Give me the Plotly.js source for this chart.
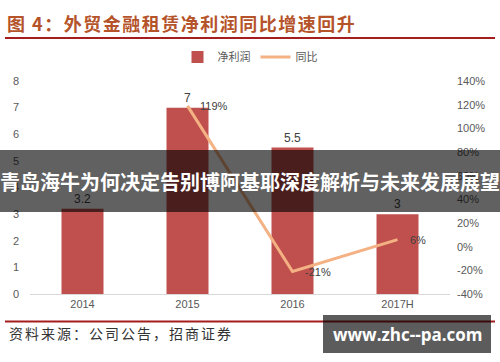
<!DOCTYPE html>
<html>
<head>
<meta charset="utf-8">
<script src="https://cdn.plot.ly/plotly-3.0.1.min.js"></script>
<style>
html,body{margin:0;padding:0;background:#fff;}
#chart{width:500px;height:362px;}
#chart .gtitle{letter-spacing:1.5px;}
#chart .annotation[data-index="3"] .annotation-text{letter-spacing:2px;}
</style>
</head>
<body>
<div id="chart"></div>
<script>
// ---- data ----
const categories = ['2014', '2015', '2016', '2017H'];
const netProfit = [3.2, 7, 5.5, 3];
const yoyGrowth = [null, 119, -21, 6];
const leftTicks = [0, 1, 2, 3, 4, 5, 6, 7, 8];
const rightTicks = [-40, -20, 0, 20, 40, 60, 80, 100, 120, 140];

const titleText = '图 4：外贸金融租赁净利润同比增速回升';
const sourceText = '资料来源：公司公告，招商证券';
const bannerText = '青岛海牛为何决定告别博阿基耶深度解析与未来发展展望';
const watermarkText = 'www.zhc--pa.com';

const CJK = '"Noto Sans CJK SC", "Liberation Sans", sans-serif';
const LAT = '"Liberation Sans", Arial, sans-serif';

// plot area geometry helpers (paper coords)
const W = 500, H = 362, ML = 30, MR = 50, MT = 81, MB = 68;
const PW = W - ML - MR, PH = H - MT - MB;
const px = x => (x - ML) / PW;
const py = y => (H - MB - y) / PH;

const idx = categories.map((c, i) => i);

const bars = {
  type: 'bar',
  name: '净利润',
  x: idx,
  y: netProfit,
  marker: {color: '#C0504D'},
  width: 0.4,
  text: netProfit.map(v => String(v)),
  textposition: 'outside',
  textfont: {family: LAT, size: 12, color: '#404040'},
  cliponaxis: false,
  hoverinfo: 'skip'
};

const line = {
  type: 'scatter',
  mode: 'lines',
  name: '同比',
  x: idx,
  y: yoyGrowth,
  yaxis: 'y2',
  line: {color: '#F4B183', width: 3},
  connectgaps: false,
  hoverinfo: 'skip'
};

const annotations = [];
idx.forEach(i => {
  if (yoyGrowth[i] === null) return;
  annotations.push({
    x: i, y: yoyGrowth[i], xref: 'x', yref: 'y2',
    text: yoyGrowth[i] + '%', showarrow: false,
    xanchor: 'left', yanchor: 'middle', xshift: 10,
    font: {family: LAT, size: 11, color: '#404040'}
  });
});

annotations.push({
  x: px(7), y: py(333), xref: 'paper', yref: 'paper',
  text: sourceText, showarrow: false, xanchor: 'left', yanchor: 'middle', align: 'left',
  font: {family: CJK, size: 14, color: '#333333'}
});
annotations.push({
  x: px(250), y: py(181), xref: 'paper', yref: 'paper',
  text: '<b>' + bannerText + '</b>', showarrow: false, xanchor: 'center', yanchor: 'middle',
  font: {family: CJK, size: 20, color: '#ffffff'}
});
annotations.push({
  x: px(407), y: py(334), xref: 'paper', yref: 'paper',
  text: '<b>' + watermarkText + '</b>', showarrow: false, xanchor: 'center', yanchor: 'middle',
  font: {family: '"Open Sans", ' + LAT, size: 17, color: '#ffffff'}
});

const shapes = [
  {type: 'line', xref: 'paper', yref: 'paper', x0: px(5), x1: px(495), y0: py(38), y1: py(38),
   line: {color: '#A51E1E', width: 2}, layer: 'above'},
  {type: 'line', xref: 'paper', yref: 'paper', x0: px(5), x1: px(495), y0: py(321.5), y1: py(321.5),
   line: {color: '#A51E1E', width: 2}, layer: 'above'},
  {type: 'rect', xref: 'paper', yref: 'paper', x0: px(-5), x1: px(505), y0: py(212), y1: py(150),
   fillcolor: 'rgba(0,0,0,0.62)', line: {width: 0}, layer: 'above'},
  {type: 'rect', xref: 'paper', yref: 'paper', x0: px(323), x1: px(491), y0: py(353), y1: py(315),
   fillcolor: 'rgba(0,0,0,0.64)', line: {width: 0}, layer: 'above'}
];

const layout = {
  width: W, height: H,
  margin: {l: ML, r: MR, t: MT, b: MB, pad: 0},
  paper_bgcolor: '#ffffff', plot_bgcolor: '#ffffff',
  showlegend: true,
  legend: {
    orientation: 'h', xref: 'container', yref: 'container',
    x: 0.5, xanchor: 'center', y: 1 - 57 / H, yanchor: 'middle',
    font: {family: CJK, size: 11, color: '#595959'},
    itemwidth: 30, tracegroupgap: 0
  },
  title: {
    text: '<b>' + titleText + '</b>',
    xref: 'container', yref: 'container',
    x: 7 / W, xanchor: 'left', y: 1 - 25 / H, yanchor: 'middle',
    font: {family: CJK, size: 18, color: '#B5532A'}
  },
  xaxis: {
    type: 'linear', range: [-0.5, categories.length - 0.5],
    tickmode: 'array', tickvals: idx, ticktext: categories,
    showgrid: false, zeroline: false,
    showline: true, linecolor: '#D9D9D9', linewidth: 1,
    ticks: '', tickfont: {family: LAT, size: 11, color: '#595959'}
  },
  yaxis: {
    type: 'linear', range: [0, 8], tickmode: 'array', tickvals: leftTicks,
    ticktext: leftTicks.map(String),
    showgrid: false, zeroline: false,
    showline: false, ticks: '', ticklabelstandoff: 10,
    tickfont: {family: LAT, size: 11, color: '#595959'}
  },
  yaxis2: {
    type: 'linear', overlaying: 'y', side: 'right', range: [-40, 140],
    tickmode: 'array', tickvals: rightTicks, ticktext: rightTicks.map(v => v + '%'),
    showgrid: false, zeroline: false, showline: false, ticks: '',
    ticklabelstandoff: 6,
    tickfont: {family: LAT, size: 11, color: '#595959'}
  },
  annotations: annotations,
  shapes: shapes
};

Plotly.newPlot('chart', [bars, line], layout, {staticPlot: true, displayModeBar: false});
</script>
</body>
</html>
